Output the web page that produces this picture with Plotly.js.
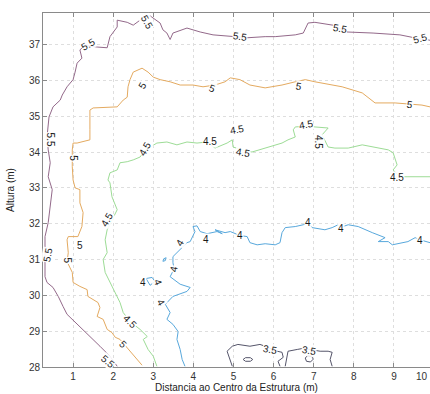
<!DOCTYPE html>
<html>
<head>
<meta charset="utf-8">
<script src="https://cdn.plot.ly/plotly-3.0.1.min.js"></script>
<style>html,body{margin:0;padding:0;background:#fff;}#chart{width:430px;height:394px;}</style>
</head>
<body>
<div id="chart"></div>
<script>
// Contour level 5.5 (path)
const c55_x = [2.10,1.92,1.67,1.42,1.17,0.98,0.85,0.75,0.63,0.50,0.35,0.30,0.30,0.30,0.30,0.38,0.43,0.48,0.38,0.43,0.38,0.35,0.40,0.50,0.68,0.73,0.85,1.00,1.05,1.10,1.22,1.17,1.30,1.60,1.85,1.92,2.10,2.10,2.35,2.50,2.67,2.75,2.92,3.17,3.24,3.34,3.42,3.49,3.84,4.17,4.49,4.97,5.36,5.79,6.04,6.54,6.74,6.86,7.03,7.48,7.83,8.48,9.15,9.73,9.90];
const c55_y = [28.02,28.30,28.58,28.85,29.13,29.33,29.47,29.69,29.97,30.22,30.36,30.52,30.85,31.27,31.64,32.03,32.47,32.95,33.31,33.70,34.06,34.42,34.98,35.26,35.45,35.59,35.82,36.02,36.23,36.48,36.62,36.85,36.98,36.93,36.91,37.22,37.49,37.68,37.62,37.54,37.68,37.77,37.80,37.60,37.41,37.32,37.14,37.32,37.46,37.35,37.27,37.22,37.19,37.22,37.22,37.27,37.32,37.60,37.62,37.54,37.35,37.32,37.27,37.14,37.12];
// Contour level 5
const c50_x = [2.72,2.60,2.42,2.17,2.05,1.97,1.85,1.75,1.60,1.67,1.62,1.50,1.37,1.35,1.17,1.00,0.98,0.85,0.88,0.85,0.88,1.12,1.22,1.25,1.17,1.17,1.05,1.00,0.98,0.98,1.00,1.10,1.42,1.42,1.42,1.50,2.10,2.25,2.35,2.37,2.42,2.50,2.72,2.87,3.00,3.17,3.42,3.67,3.99,4.24,4.54,4.79,4.92,5.16,5.41,5.79,6.21,6.54,6.79,7.03,7.71,8.21,8.46,8.53,9.03,9.70,9.90];
const c50_y = [28.05,28.21,28.44,28.77,28.83,28.96,29.05,29.33,29.41,29.66,29.80,29.88,29.97,30.16,30.25,30.36,30.64,30.94,31.19,31.55,31.64,31.64,31.92,32.31,32.58,32.95,33.00,33.22,33.59,34.06,34.25,34.25,34.34,34.62,35.17,35.23,35.26,35.45,35.53,35.82,36.02,36.23,36.34,36.23,36.09,36.02,35.96,35.87,35.87,35.82,35.87,35.96,36.07,36.02,35.87,35.79,35.87,35.96,36.02,35.96,35.82,35.65,35.45,35.37,35.37,35.31,35.26];
// Contour level 4.5
const c45_x = [3.09,3.00,2.87,2.75,2.85,2.67,2.42,2.25,2.17,2.05,1.92,1.80,1.75,1.85,1.80,1.85,2.10,1.97,1.92,1.87,1.92,2.10,2.17,2.35,2.50,2.67,2.80,3.00,3.09,3.34,3.59,3.84,4.09,4.34,4.54,4.84,4.97,4.99,5.24,5.46,6.04,6.21,6.36,6.54,6.49,6.54,6.81,7.11,7.36,7.21,7.36,7.53,7.86,8.21,8.46,8.86,8.98,9.03,9.08,8.98,9.15,9.35,9.90];
const c45_y = [28.02,28.30,28.49,28.77,28.85,29.05,29.27,29.52,29.80,30.08,30.36,30.64,31.00,31.19,31.55,31.83,32.39,32.75,33.14,33.22,33.42,33.50,33.70,33.73,33.78,33.86,34.05,34.20,34.25,34.28,34.20,34.28,34.25,34.28,34.11,34.25,34.34,34.14,34.05,34.00,34.20,34.25,34.34,34.42,34.62,34.70,34.72,34.70,34.67,34.48,34.14,34.11,34.11,34.20,34.14,34.06,33.98,33.78,33.64,33.50,33.31,33.31,33.31];
// Contour level 4
const c40_x = [3.79,3.72,3.67,3.59,3.62,3.49,3.34,3.42,3.30,3.42,3.49,3.84,3.92,3.67,3.42,3.52,3.49,3.49,3.67,3.84,3.92,3.97,4.04,3.99,4.09,4.17,4.34,4.59,4.72,4.54,4.79,4.92,5.16,5.34,5.41,5.59,5.79,6.04,6.16,6.21,6.29,6.54,6.74,6.86,6.96,7.28,7.46,7.61,7.68,7.86,8.11,8.46,8.78,8.61,8.86,8.96,9.20,9.35,9.53,9.65,9.90];
const c40_y = [28.02,28.21,28.49,28.77,28.99,29.19,29.33,29.52,29.75,29.88,29.97,30.11,30.22,30.31,30.52,30.74,30.91,31.08,31.27,31.47,31.50,31.64,31.78,31.92,31.94,31.78,31.72,31.78,31.72,31.83,31.75,31.78,31.67,31.64,31.47,31.41,31.44,31.41,31.47,31.75,31.89,31.92,31.97,32.03,31.89,31.83,31.89,31.97,31.90,31.97,31.92,31.75,31.61,31.50,31.50,31.41,31.47,31.50,31.61,31.55,31.47];
// Small closed level-4 islands
const c40b_x = [2.82,2.97,3.04,2.92,2.82];
const c40b_y = [30.47,30.50,30.39,30.28,30.47];
const c40c_x = [3.26,3.32,3.30,3.24,3.26];
const c40c_y = [31.02,31.05,30.97,30.95,31.02];
// Contour level 3.5 (pieces along the bottom)
const c35a_x = [4.97,4.87,4.84,4.97,5.11,5.41,5.66,5.79,6.09,6.21,6.24,6.11,6.16];
const c35a_y = [28.02,28.30,28.44,28.58,28.63,28.58,28.63,28.58,28.44,28.41,28.27,28.16,28.02];
const c35b_x = [6.29,6.34,6.36,6.59,6.74,7.16,7.36,7.46,7.41,7.46];
const c35b_y = [28.02,28.30,28.44,28.49,28.52,28.44,28.44,28.41,28.21,28.02];
const c35c_x = [5.24,5.30,5.42,5.48,5.42,5.30,5.24];
const c35c_y = [28.21,28.26,28.26,28.21,28.16,28.16,28.21];
const c35d_x = [6.79,6.85,6.95,6.99,6.92,6.82,6.79];
const c35d_y = [28.25,28.32,28.30,28.22,28.14,28.16,28.25];

// Inline contour labels
const labelText  = ["5.5","5.5","5.5","5.5","5.5","5.5","5.5","5.5",
                    "5","5","5","5","5","5","5","5",
                    "4.5","4.5","4.5","4.5","4.5","4.5","4.5","4.5","4.5",
                    "4","4","4","4","4","4","4","4","4","4",
                    "3.5","3.5"];
const labelX     = [1.37,2.85,5.16,7.66,9.66,0.43,0.38,1.87,
                    1.02,2.72,4.47,6.64,9.40,1.17,0.85,2.25,
                    1.85,2.80,4.42,5.09,5.24,6.81,7.11,9.08,2.42,
                    3.67,4.32,3.52,3.19,5.16,6.86,7.68,9.65,2.75,3.12,
                    5.91,6.89];
const labelY     = [37.01,37.62,37.22,37.46,37.18,34.34,31.13,28.16,
                    33.83,35.87,35.76,35.84,35.34,31.39,30.97,28.63,
                    32.11,34.09,34.28,34.62,34.00,34.76,34.28,33.28,29.27,
                    31.47,31.55,30.74,29.80,31.67,32.03,31.86,31.53,30.36,30.36,
                    28.49,28.46];
const labelAngle = [-30,60,8,10,-15,90,-80,40,
                    90,-60,20,10,10,0,90,45,
                    -60,-60,0,-10,10,-10,90,0,45,
                    -60,0,-80,60,0,0,0,0,0,70,
                    10,10];

// x-axis / y-axis ticks
const xTicks = [1,2,3,4,5,6,7,8,9];
const yTicks = [28,29,30,31,32,33,34,35,36,37];

const col55 = "#93698a", col50 = "#e4aa60", col45 = "#9ddc96", col40 = "#58a8dc", col35 = "#55556a";
function line(x, y, c) {
  return {type:"scatter", mode:"lines", x:x, y:y, line:{color:c, width:1}, hoverinfo:"skip"};
}
const traces = [
  line(c55_x, c55_y, col55),
  line(c50_x, c50_y, col50),
  line(c45_x, c45_y, col45),
  line(c40_x, c40_y, col40),
  line(c40b_x, c40b_y, col40),
  line(c40c_x, c40c_y, col40),
  line(c35a_x, c35a_y, col35),
  line(c35b_x, c35b_y, col35),
  line(c35c_x, c35c_y, col35),
  line(c35d_x, c35d_y, col35)
];

const annotations = labelText.map((t, i) => ({
  x: labelX[i], y: labelY[i], xref:"x", yref:"y", text:t, showarrow:false,
  textangle: labelAngle[i], font:{size:10, color:"#1a1a1a", family:"Liberation Sans, Arial, sans-serif"},
  bgcolor:"rgba(255,255,255,0.9)", borderpad:0
}));
// the "10" tick label at the right edge
annotations.push({x:1.0, y:0, xref:"paper", yref:"paper", xanchor:"right", yanchor:"top", yshift:-2, text:"10", showarrow:false,
  font:{size:10, color:"#333", family:"Liberation Sans, Arial, sans-serif"}});

const layout = {
  width:430, height:394,
  margin:{l:43, r:0, t:13, b:27, pad:0},
  paper_bgcolor:"#fff", plot_bgcolor:"#fff",
  showlegend:false,
  font:{family:"Liberation Sans, Arial, sans-serif", size:10, color:"#333"},
  xaxis:{range:[0.25,9.9], tickvals:xTicks, ticktext:xTicks.map(String), showgrid:true, gridcolor:"#dedede", griddash:"dot", gridwidth:1,
    zeroline:false, showline:true, linecolor:"#8a8a8a", linewidth:1, mirror:"ticks", ticks:"inside", ticklen:4, tickcolor:"#8a8a8a",
    automargin:false, title:{text:"Distancia ao Centro da Estrutura (m)", font:{size:10, color:"#222"}, standoff:1}},
  yaxis:{range:[28,37.88], tickvals:yTicks, ticktext:yTicks.map(String), showgrid:true, gridcolor:"#dedede", griddash:"dot", gridwidth:1,
    zeroline:false, showline:true, linecolor:"#8a8a8a", linewidth:1, mirror:false, ticks:"inside", ticklen:4, tickcolor:"#8a8a8a",
    automargin:false, title:{text:"Altura (m)", font:{size:10, color:"#222"}, standoff:12}},
  annotations: annotations
};
Plotly.newPlot("chart", traces, layout, {displayModeBar:false, staticPlot:true});
</script>
</body>
</html>
